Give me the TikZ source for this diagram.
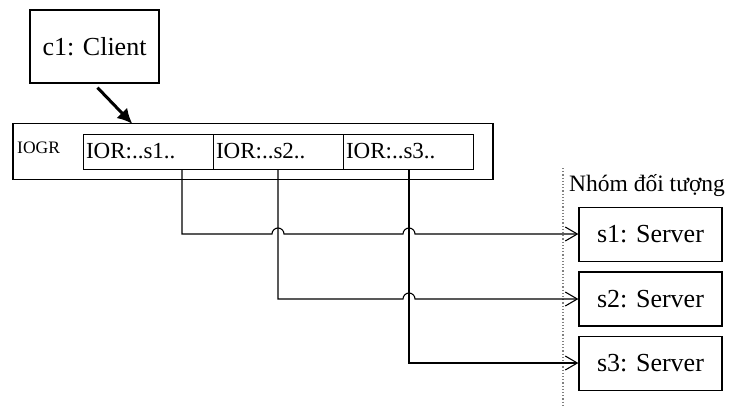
\documentclass[tikz,border=0pt]{standalone}
\usepackage{fontspec}
\setmainfont{Liberation Serif}
\usetikzlibrary{arrows.meta}
\tikzstyle{objbox}=[draw,line width=1.3pt,inner sep=0pt,font=\fontsize{26}{28}\selectfont]
\tikzstyle{iorbox}=[draw,line width=1pt,minimum width=130pt,minimum height=35pt,inner sep=3pt,text width=124pt,align=left,font=\fontsize{23}{25}\selectfont]
\tikzstyle{link}=[line width=1.1pt,-{Straight Barb[length=12pt,width=14pt]}]

\begin{document}
\begin{tikzpicture}[x=1pt,y=-1pt]
  \useasboundingbox (0,0) rectangle (735,407);
  \node[objbox,minimum width=129pt,minimum height=73pt] (client) at (94.5,46.5) {c1: Client};
  \node[draw,line width=1.3pt,minimum width=480pt,minimum height=56pt,inner sep=0pt] (iogr) at (253,151.5) {};
  \node[anchor=west,inner sep=0pt,font=\fontsize{17.5}{19}\selectfont] (iogrlabel) at (17,148) {IOGR};
  \foreach \name/\x/\text in {ior1/148/IOR:..s1.., ior2/278/IOR:..s2.., ior3/408/IOR:..s3..}
    \node[iorbox] (\name) at (\x,151.5) {\text};
  \draw[line width=3pt,-{Latex[length=15pt,width=15pt]}] ([shift={(3,4)}]client.south) -- ([xshift=120pt,yshift=-1pt]iogr.north west);
  % object group
  \draw[gray,dotted,line width=1.2pt] (563,168) -- (563,407);
  \node[anchor=west,inner sep=0pt,font=\fontsize{23.5}{25}\selectfont] (group) at (569,186) {Nhóm đối tượng};
  \foreach \name/\y/\text in {s1/234.5/s1: Server, s2/299/s2: Server, s3/363.5/s3: Server}
    \node[objbox,minimum width=143pt,minimum height=54pt] (\name) at (650.5,\y) {\text};
  % references
  \draw[link] (ior1.south -| 182,0) -- (182,234) -- (272,234) arc (180:360:6) -- (403,234) arc (180:360:6) -- (s1.west |- 0,234);
  \draw[link] (ior2.south -| 278,0) -- (278,299) -- (403,299) arc (180:360:6) -- (s2.west |- 0,299);
  \draw[link] (ior3.south -| 409,0) -- (409,363) -- (s3.west |- 0,363);
\end{tikzpicture}
\end{document}
